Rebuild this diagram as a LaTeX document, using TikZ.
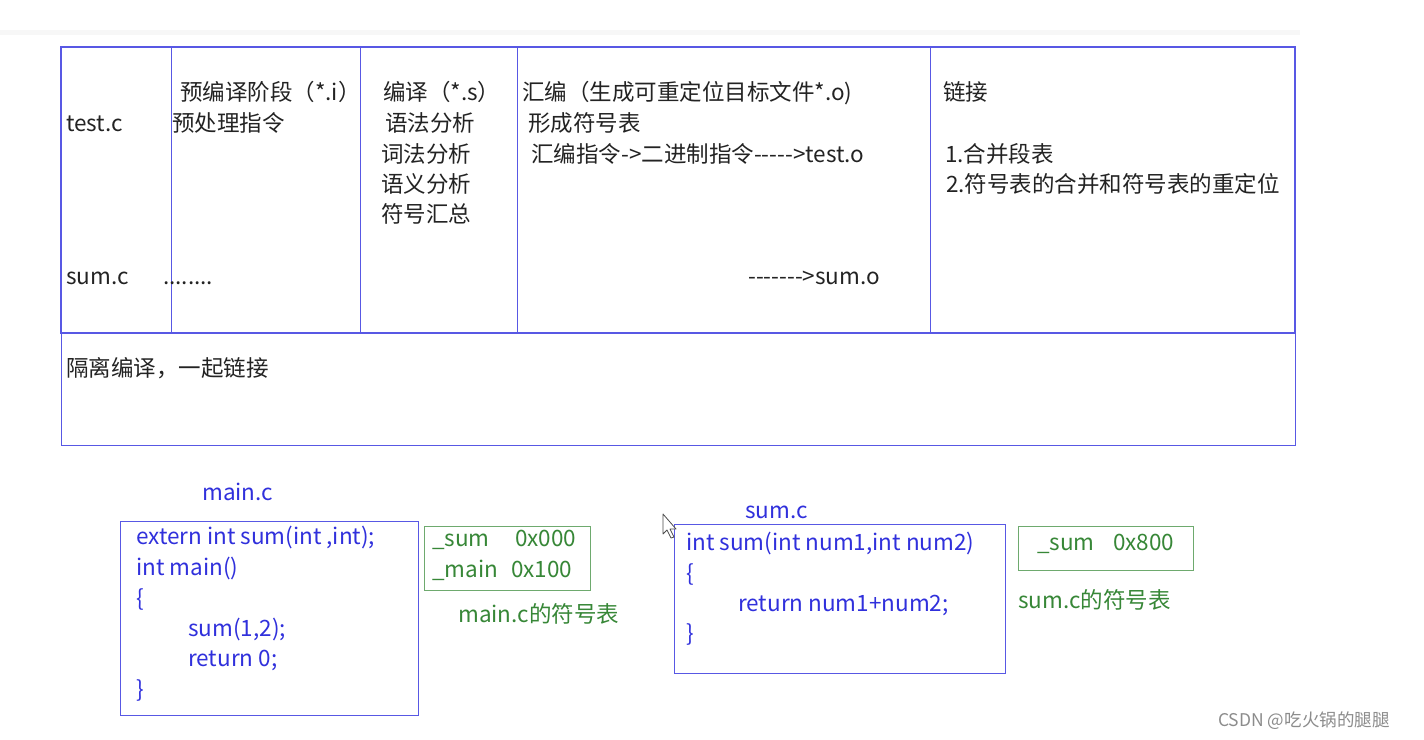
\documentclass[tikz,border=0pt]{standalone}
\usepackage{fontspec}
\setmainfont{Noto Sans CJK SC}[Ligatures=TeXOff]
\definecolor{tblue}{RGB}{88,88,228}
\definecolor{cblue}{RGB}{48,48,220}
\definecolor{tgreen}{RGB}{55,135,55}
\definecolor{gbox}{RGB}{110,170,110}
\definecolor{ttext}{RGB}{35,35,35}
\begin{document}
\begin{tikzpicture}[x=1pt,y=-1pt,
  thinline/.style={draw=tblue,line width=0.9pt},
  thickline/.style={draw=tblue,line width=1.8pt},
  greenline/.style={draw=gbox,line width=0.9pt},
  lbl/.style={anchor=base west,inner sep=0pt,font=\fontsize{22.5}{26}\selectfont,text=ttext},
  code/.style={lbl,text=cblue},
  grn/.style={lbl,text=tgreen},
  wm/.style={anchor=base west,inner sep=0pt,font=\fontsize{17.5}{20}\selectfont,text=black!45}]
\useasboundingbox[fill=white] (0,0) rectangle (1424,739);
\fill[black!3] (0,30) rectangle (1300,35);
% table
\draw[thinline] (61,333) rectangle (1295,445);
\draw[thickline] (61,47) rectangle (1295,333);
\foreach \x in {171,360,517,930} \draw[thinline] (\x,47) -- (\x,333);
% column texts
\node[lbl] (t1) at (66,131) {test.c};
\node[lbl] (t2) at (180,100) {预编译阶段（*.i）};
\node[lbl] (t3) at (172,131) {预处理指令};
\node[lbl] (t4) at (66,284) {sum.c};
\node[lbl] (t5) at (163,284) {........};
\node[lbl] (t6) at (383,100) {编译（*.s）};
\node[lbl] (t7) at (385,131) {语法分析};
\node[lbl] (t8) at (381,162) {词法分析};
\node[lbl] (t9) at (381,192) {语义分析};
\node[lbl] (t10) at (381,222) {符号汇总};
\node[lbl] (t11) at (522,100) {汇编（生成可重定位目标文件*.o)};
\node[lbl] (t12) at (528,131) {形成符号表};
\node[lbl] (t13) at (531,162) {汇编指令->二进制指令----->test.o};
\node[lbl] (t14) at (748,284) {------->sum.o};
\node[lbl] (t15) at (943,100) {链接};
\node[lbl] (t16) at (945,162) {1.合并段表};
\node[lbl] (t17) at (946,192) {2.符号表的合并和符号表的重定位};
\node[lbl] (t18) at (66,376) {隔离编译，一起链接};
% main.c
\node[code] (mainlbl) at (202,500) {main.c};
\draw[thinline] (120,521) rectangle (418,715);
\node[code] (m1) at (136,544) {extern int sum(int ,int);};
\node[code] (m2) at (136,575) {int main()};
\node[code] (m3) at (136,606) {\{};
\node[code] (m4) at (188,636) {sum(1,2);};
\node[code] (m5) at (188,666) {return 0;};
\node[code] (m6) at (136,697) {\}};
\draw[greenline] (424,526) rectangle (590,590);
\node[grn] (g1) at (432,546) {\_sum};
\node[grn] (g2) at (515,546) {0x000};
\node[grn] (g3) at (432,577) {\_main};
\node[grn] (g4) at (511,577) {0x100};
\node[grn] (g5) at (458,622) {main.c的符号表};
% sum.c
\node[code] (sumlbl) at (745,518) {sum.c};
\draw[thinline] (674,524) rectangle (1005,673);
\node[code] (s1) at (686,550) {int sum(int num1,int num2)};
\node[code] (s2) at (686,581) {\{};
\node[code] (s3) at (738,611) {return num1+num2;};
\node[code] (s4) at (686,641) {\}};
\draw[greenline] (1018,526) rectangle (1193,570);
\node[grn] (g6) at (1037,550) {\_sum};
\node[grn] (g7) at (1113,550) {0x800};
\node[grn] (g8) at (1018,608) {sum.c的符号表};
% mouse cursor
\draw[black!70,fill=white,line width=0.8pt,line join=round]
  (663,514) -- (663,534) -- (667,530) -- (671,538) -- (674,537) -- (670,529) -- (676,529) -- cycle;
% watermark
\node[wm] (wmk) at (1218,726) {CSDN @吃火锅的腿腿};
\end{tikzpicture}
\end{document}
